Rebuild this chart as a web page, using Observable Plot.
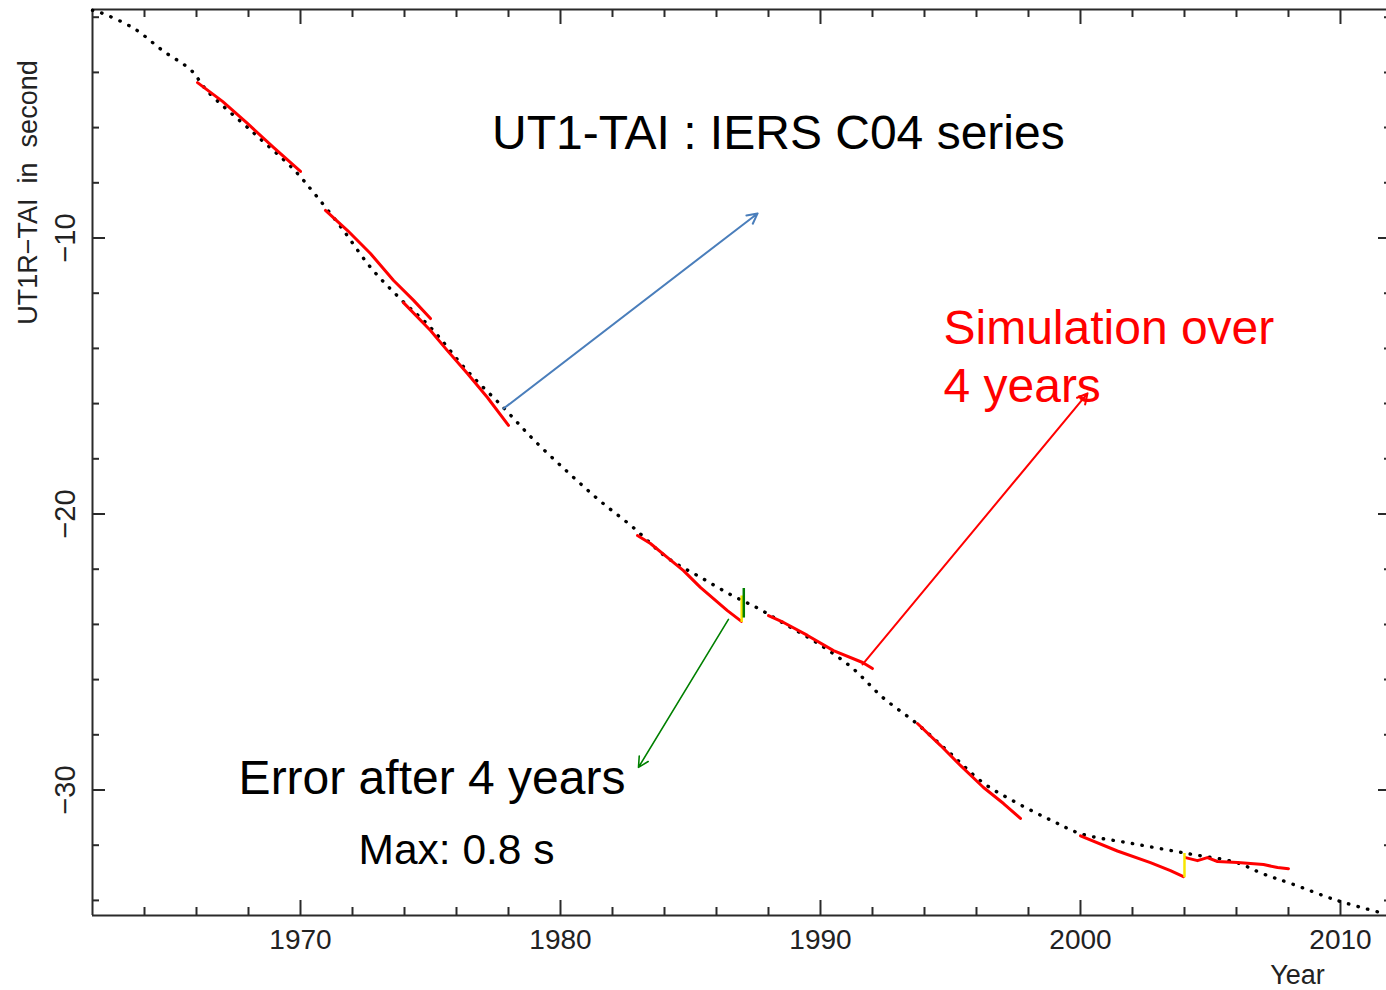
<!DOCTYPE html>
<html>
<head>
<meta charset="utf-8">
<script src="https://cdn.jsdelivr.net/npm/d3@7"></script>
<script src="https://cdn.jsdelivr.net/npm/@observablehq/plot@0.6"></script>
<style>
  html, body { margin: 0; padding: 0; background: #fff; overflow: hidden; }
  #chart svg { display: block; }
</style>
</head>
<body>
<div id="chart"></div>
<script>
// ---- IERS C04 series UT1-TAI (dotted black curve) ----
const c04Years  = [1962.0, 1962.3, 1963.6, 1964.7, 1965.8, 1966.4, 1968.1, 1969.7, 1970.5, 1971.6,
                   1972.7, 1973.9, 1975.0, 1976.4, 1977.8, 1979.0, 1980.3, 1981.5, 1982.8, 1984.1,
                   1985.4, 1986.6, 1987.6, 1988.6, 1989.9, 1991.2, 1992.4, 1993.7, 1995.0, 1996.3,
                   1997.6, 1998.9, 2000.0, 2002.0, 2004.1, 2006.0, 2007.0, 2008.1, 2009.9, 2011.7];
const c04Values = [-1.75, -1.83, -2.41, -3.21, -3.93, -4.66, -6.11, -7.48, -8.35, -9.66,
                   -11.07, -12.26, -13.24, -14.80, -16.14, -17.34, -18.50, -19.51, -20.49, -21.58,
                   -22.30, -22.95, -23.42, -23.97, -24.69, -25.56, -26.65, -27.59, -28.68, -29.77,
                   -30.49, -31.11, -31.58, -31.94, -32.30, -32.63, -33.03, -33.39, -34.01, -34.48];

// ---- 4-year simulations (red) ----
const sim1966Years  = [1966.04, 1967.0, 1967.96, 1968.96, 1970.0];
const sim1966Values = [-4.37, -5.05, -5.85, -6.72, -7.59];
const sim1971Years  = [1970.96, 1971.81, 1972.69, 1973.58, 1974.35, 1975.0];
const sim1971Values = [-9.0, -9.73, -10.56, -11.54, -12.26, -12.92];
const sim1974Years  = [1973.96, 1975.0, 1975.65, 1976.42, 1977.19, 1978.0];
const sim1974Values = [-12.34, -13.35, -14.08, -14.91, -15.78, -16.79];
const sim1983Years  = [1982.96, 1983.46, 1984.12, 1984.73, 1985.38, 1986.42, 1986.96];
const sim1983Values = [-20.78, -21.07, -21.58, -22.05, -22.66, -23.50, -23.89];
const sim1988Years  = [1988.0, 1988.58, 1989.5, 1990.5, 1991.62, 1992.0];
const sim1988Values = [-23.68, -23.93, -24.40, -24.95, -25.38, -25.60];
const sim1994Years  = [1993.73, 1994.62, 1995.38, 1996.27, 1997.04, 1997.69];
const sim1994Values = [-27.59, -28.39, -29.11, -29.91, -30.49, -31.03];
const sim2000Years  = [2000.0, 2001.42, 2002.69, 2003.46, 2003.96];
const sim2000Values = [-31.66, -32.21, -32.63, -32.92, -33.14];
const sim2004Years  = [2004.04, 2004.5, 2004.88, 2005.27, 2006.04, 2007.04, 2007.58, 2008.0];
const sim2004Values = [-32.45, -32.56, -32.45, -32.59, -32.63, -32.70, -32.81, -32.85];

// ---- error after 4 years (yellow) and marker (green) ----
const errorYears  = [1986.97, 2004.0];
const errorTop    = [-22.97, -32.30];
const errorBottom = [-23.93, -33.18];
const markerYears  = [1987.05];
const markerTop    = [-22.70];
const markerBottom = [-23.77];

// ---- axes ----
const xDomain = [1962, 2011.77];
const yDomain = [-34.547, -1.721];
const xMajorTicks = [1970, 1980, 1990, 2000, 2010];
const xMinorTicks = [1964, 1966, 1968, 1972, 1974, 1976, 1978, 1982, 1984, 1986, 1988,
                     1992, 1994, 1996, 1998, 2002, 2004, 2006, 2008];
const yMajorTicks = [-10, -20, -30];
const yMinorTicks = [-2, -4, -6, -8, -12, -14, -16, -18, -22, -24, -26, -28, -32, -34];
const yTickLabels = ["\u221210", "\u221220", "\u221230"];
const yAxisTitle = "UT1R\u2212TAI  in  second";
const xAxisTitle = "Year";

// ---- annotations ----
const titleText = "UT1-TAI : IERS C04 series";
const simText = ["Simulation over", "4 years"];
const errorText = ["Error after 4 years", "Max: 0.8 s"];
const arrowsData = [
  {x1: 1977.81, y1: -16.18, x2: 1987.58, y2: -9.11, color: "#4A7EBB", w: 2},
  {x1: 1991.62, y1: -25.45, x2: 2000.27, y2: -15.63, color: "#ff0000", w: 2},
  {x1: 1986.46, y1: -23.82, x2: 1983.0,  y2: -29.18, color: "#008000", w: 1.6}
];

// build tables
const c04 = c04Years.map((x, i) => ({x, y: c04Values[i]}));
const simSets = [
  [sim1966Years, sim1966Values], [sim1971Years, sim1971Values], [sim1974Years, sim1974Values],
  [sim1983Years, sim1983Values], [sim1988Years, sim1988Values], [sim1994Years, sim1994Values],
  [sim2000Years, sim2000Values], [sim2004Years, sim2004Values]
];
const sims = simSets.flatMap(([ys, vs], k) => ys.map((x, i) => ({x, y: vs[i], seg: k})));
const errors = errorYears.map((x, i) => ({x, y1: errorTop[i], y2: errorBottom[i]}));
const markers = markerYears.map((x, i) => ({x, y1: markerTop[i], y2: markerBottom[i]}));

const font = "Liberation Sans, Arial, Helvetica, sans-serif";
const axisColor = "#2a2a2a";
const blank = () => "";

const chart = Plot.plot({
  width: 1386,
  height: 990,
  marginLeft: 92,
  marginRight: 0,
  marginTop: 9,
  marginBottom: 75,
  style: {fontFamily: font, background: "#fff", color: "#111"},
  x: {domain: xDomain},
  y: {domain: yDomain},
  marks: [
    // frame (top, bottom, left)
    Plot.ruleY([yDomain[0], yDomain[1]], {stroke: axisColor, strokeWidth: 2}),
    Plot.ruleX([xDomain[0]], {stroke: axisColor, strokeWidth: 2}),
    // bottom ticks (inward)
    Plot.axisX(xMinorTicks, {anchor: "bottom", tickSize: 8, insetBottom: 8, tickFormat: blank, label: null, stroke: axisColor, strokeWidth: 2}),
    Plot.axisX(xMajorTicks, {anchor: "bottom", tickSize: 15, insetBottom: 15, tickFormat: blank, label: null, stroke: axisColor, strokeWidth: 2}),
    Plot.axisX(xMajorTicks, {anchor: "bottom", tickSize: 0, tickPadding: 14, fontSize: 28, tickFormat: d => String(d), label: null, fill: "#222"}),
    // top ticks (inward)
    Plot.axisX(xMinorTicks, {anchor: "top", tickSize: 7, insetTop: 7, tickFormat: blank, label: null, stroke: axisColor, strokeWidth: 2}),
    Plot.axisX(xMajorTicks, {anchor: "top", tickSize: 14, insetTop: 14, tickFormat: blank, label: null, stroke: axisColor, strokeWidth: 2}),
    // left ticks (inward)
    Plot.axisY(yMinorTicks, {anchor: "left", tickSize: 7, insetLeft: 7, tickFormat: blank, label: null, stroke: axisColor, strokeWidth: 2}),
    Plot.axisY(yMajorTicks, {anchor: "left", tickSize: 13, insetLeft: 13, tickFormat: blank, label: null, stroke: axisColor, strokeWidth: 2}),
    // right ticks (partly cut by the picture edge)
    Plot.axisY(yMinorTicks, {anchor: "right", tickSize: 3, insetRight: 3, tickFormat: blank, label: null, stroke: axisColor, strokeWidth: 2}),
    Plot.axisY(yMajorTicks, {anchor: "right", tickSize: 9, insetRight: 9, tickFormat: blank, label: null, stroke: axisColor, strokeWidth: 2}),
    // rotated y tick labels
    Plot.text(yMajorTicks, {y: d => d, text: (d, i) => yTickLabels[i], frameAnchor: "left", dx: -27, rotate: -90,
      textAnchor: "middle", lineAnchor: "middle", fontSize: 29, fill: "#222"}),
    // axis titles
    Plot.text([yAxisTitle], {frameAnchor: "top-left", dx: -64, dy: 183, rotate: -90, textAnchor: "middle",
      lineAnchor: "middle", fontSize: 27, fill: "#222"}),
    Plot.text([xAxisTitle], {frameAnchor: "bottom-right", dx: -89, dy: 60, textAnchor: "middle",
      lineAnchor: "middle", fontSize: 27, fill: "#222"}),
    // data
    Plot.line(c04, {x: "x", y: "y", stroke: "#000", strokeWidth: 3.4, strokeDasharray: "0.4,9.4",
      strokeLinecap: "round", curve: "catmull-rom"}),
    Plot.line(sims, {x: "x", y: "y", z: "seg", stroke: "#ff0000", strokeWidth: 3, strokeLinecap: "round", strokeLinejoin: "round"}),
    Plot.ruleX(errors, {x: "x", y1: "y1", y2: "y2", stroke: "#f7e600", strokeWidth: 2.5}),
    Plot.ruleX(markers, {x: "x", y1: "y1", y2: "y2", stroke: "#008000", strokeWidth: 2.5}),
    // arrows
    Plot.arrow(arrowsData, {x1: "x1", y1: "y1", x2: "x2", y2: "y2", stroke: d => d.color, strokeWidth: d => d.w,
      headLength: 17, headAngle: 55}),
    // annotation texts
    Plot.text([titleText], {x: [1988.38], y: [-6.21], textAnchor: "middle", lineAnchor: "middle", fontSize: 48, fill: "#000"}),
    Plot.text(simText, {x: [1994.73, 1994.73], y: [-13.28, -15.38], textAnchor: "start", lineAnchor: "middle", fontSize: 48, fill: "#ff0000"}),
    Plot.text([errorText[0]], {x: [1967.62], y: [-29.58], textAnchor: "start", lineAnchor: "middle", fontSize: 48, fill: "#000"}),
    Plot.text([errorText[1]], {x: [1972.23], y: [-32.19], textAnchor: "start", lineAnchor: "middle", fontSize: 42.5, fill: "#000"})
  ]
});
document.getElementById("chart").append(chart);
</script>
</body>
</html>
